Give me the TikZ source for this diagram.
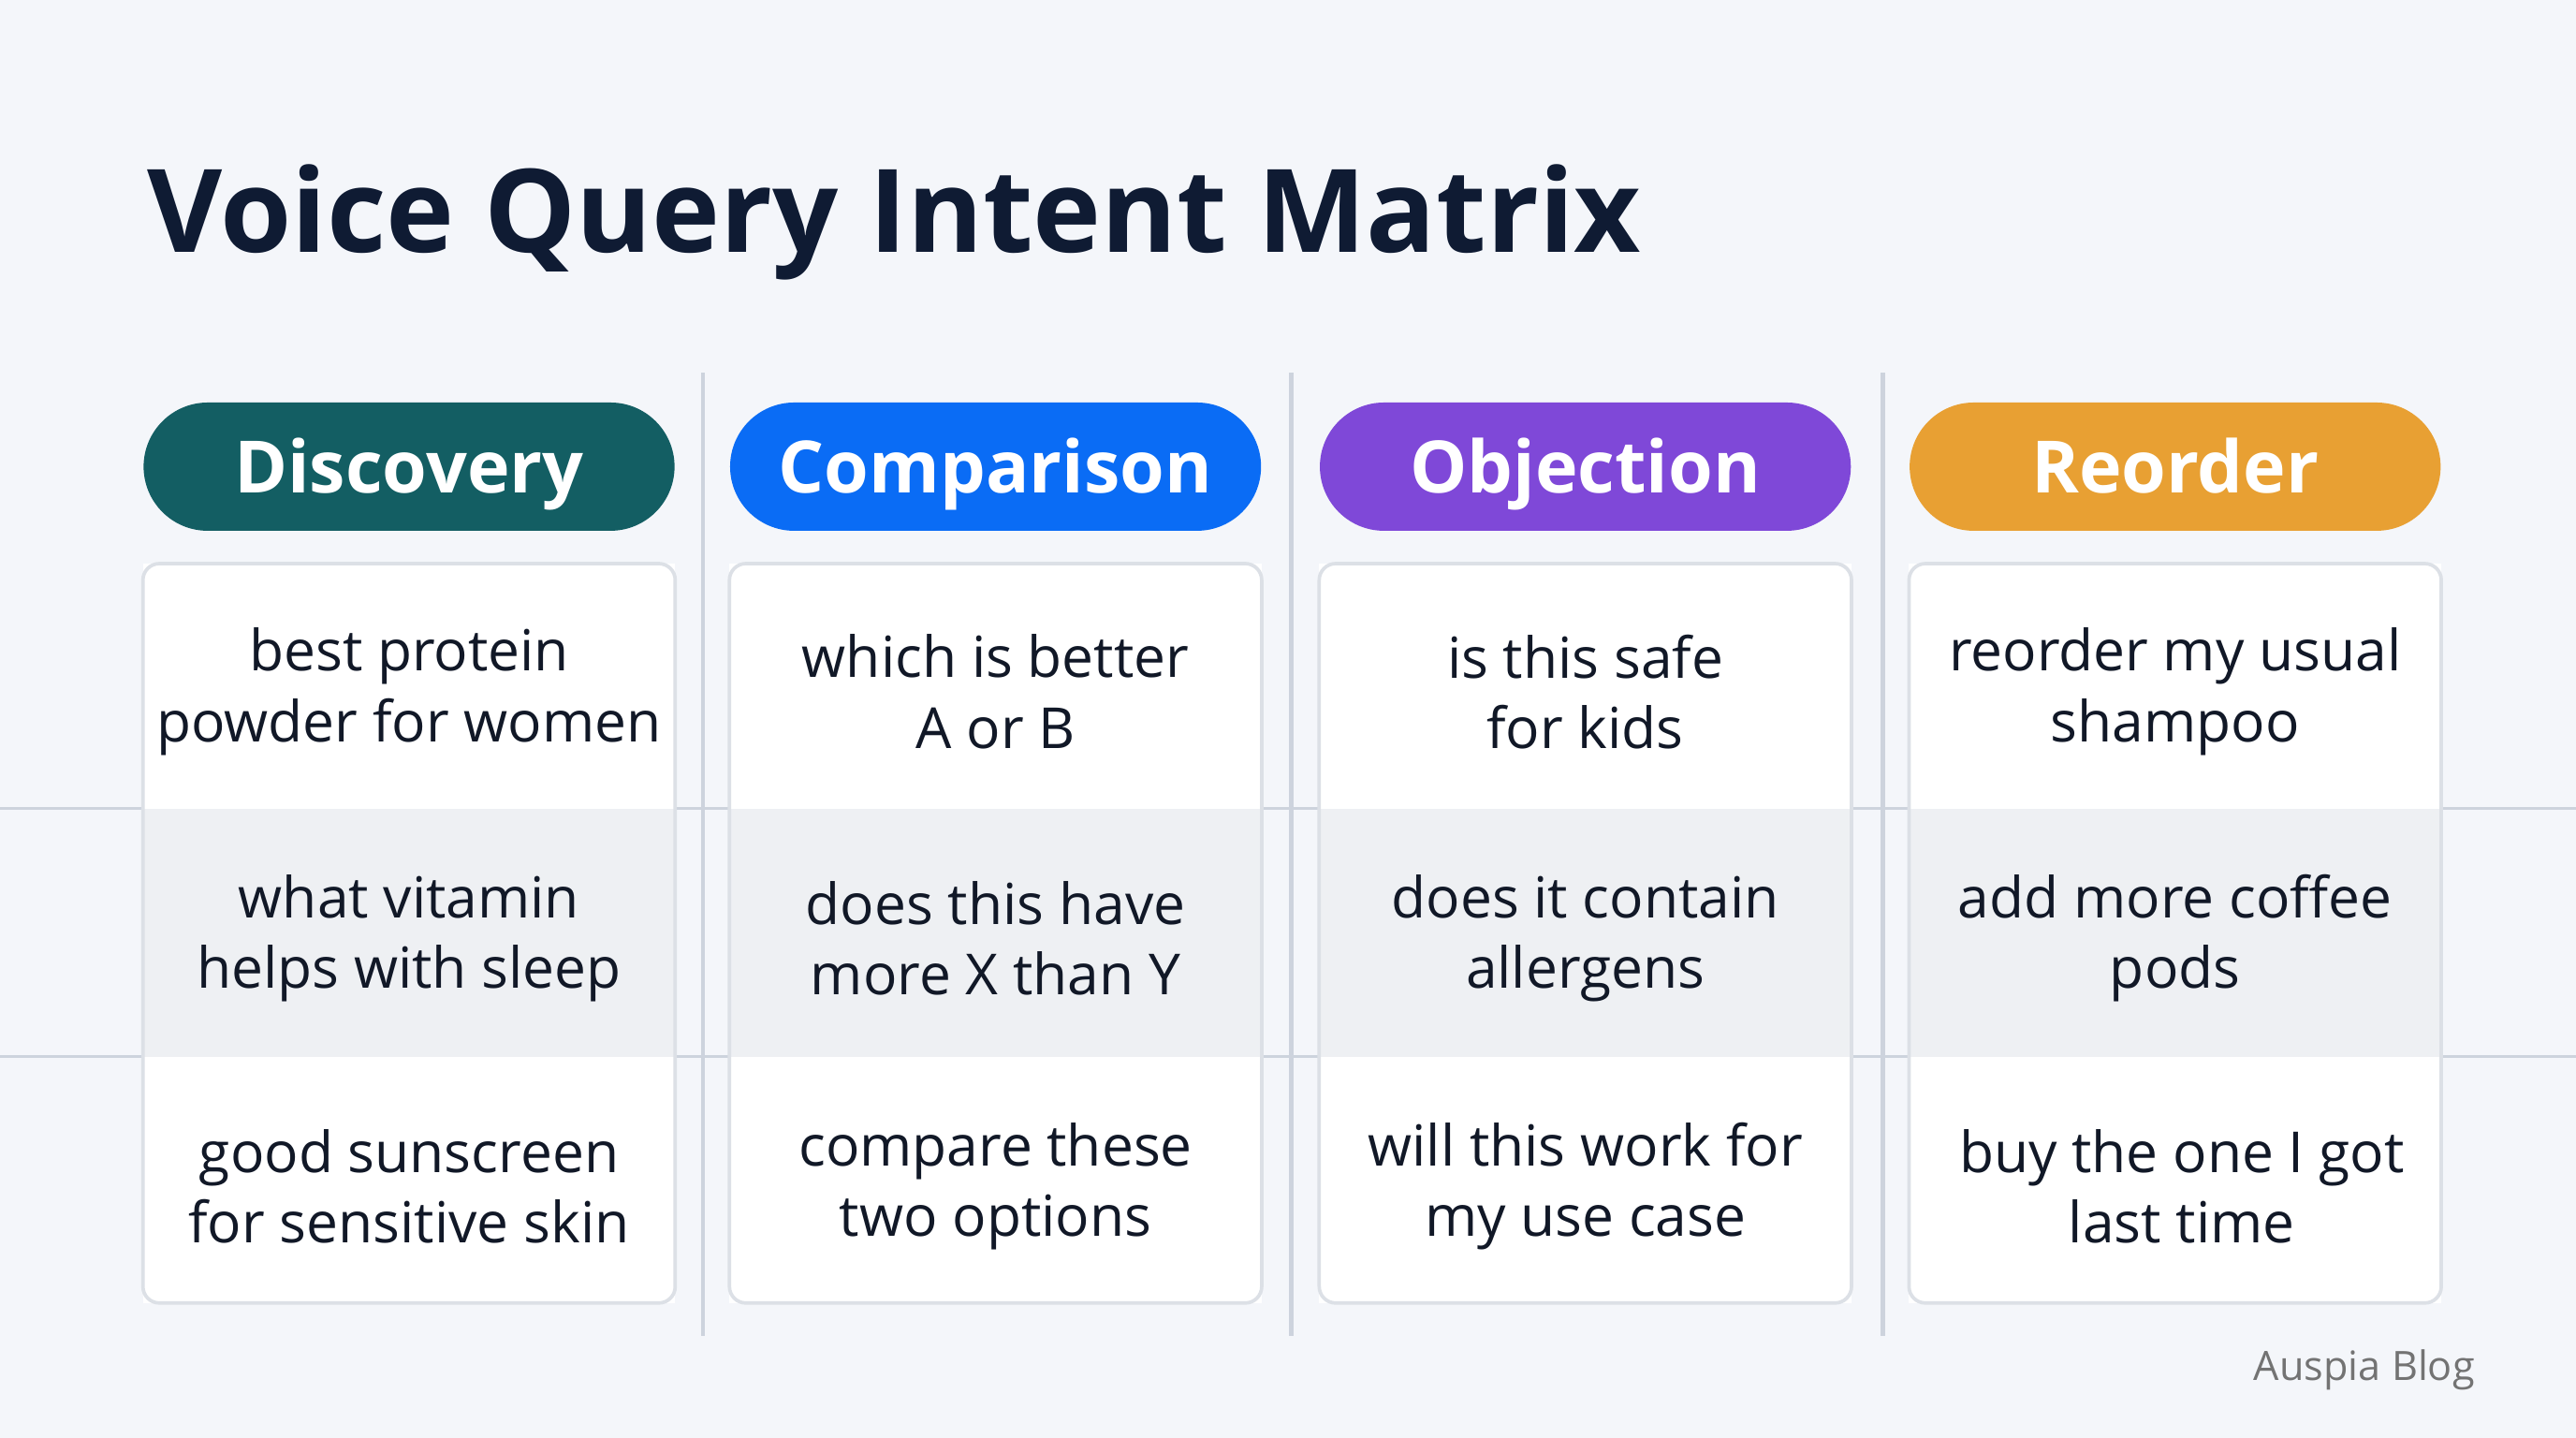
\documentclass[tikz,border=0pt]{standalone}
\usepackage{fontspec}
\setmainfont{Open Sans}
\definecolor{bg}{HTML}{F4F6FA}
\definecolor{ttl}{HTML}{0F1B33}
\definecolor{cdisc}{HTML}{135E63}
\definecolor{ccomp}{HTML}{0A6CF5}
\definecolor{cobj}{HTML}{7F48D8}
\definecolor{creo}{HTML}{E8A033}
\definecolor{gridl}{HTML}{CDD3DD}
\definecolor{cardl}{HTML}{DCE0E6}
\definecolor{midrow}{HTML}{EEF0F3}
\definecolor{txt}{HTML}{111827}
\begin{document}
\begin{tikzpicture}[x=0.01cm,y=-0.01cm,
 pill/.style={text=white, font=\fontsize{12.5}{15}\selectfont\bfseries, minimum width=3.23cm, minimum height=0.78cm, inner sep=0pt},
 pilltext/.style={text=white, font=\fontsize{12.5}{15}\selectfont\bfseries, inner sep=0pt},
 celltext/.style={text=txt, font=\fontsize{9.8}{12.2}\selectfont, align=center}]
\fill[bg] (0,0) rectangle (1568,875);
\useasboundingbox (0,0) rectangle (1568,875);
\node[anchor=west, inner sep=0pt, text=ttl, font=\fontsize{20}{24}\selectfont\bfseries] (title) at (89,135) {Voice Query Intent Matrix};
% grid lines
\foreach \y/\n in {492/ha,643/hb} \draw[gridl, line width=0.5pt] (0,\y) coordinate (\n l) -- (1568,\y) coordinate (\n r);
\foreach \x/\n in {428/va,786/vb,1146/vc} \draw[gridl, line width=0.7pt] (\x,227) coordinate (\n t) -- (\x,813) coordinate (\n b);
% columns
\foreach \x/\c/\h/\n in {87/cdisc/Discovery/d,444/ccomp/Comparison/c,803/cobj/Objection/o,1162/creo/Reorder/r}{
  \node[pill, fill=\c, rounded corners=0.39cm] (p\n) at (\x+162,284) {};
  \node[pilltext, anchor=base] (t\n) at (\x+162,300) {\h};
  \fill[white] (\x,343) rectangle (\x+324,793);
  \fill[midrow] (\x,492) rectangle (\x+324,643);
  \draw[cardl, line width=0.6pt, rounded corners=0.1cm] (\x,343) rectangle (\x+324,793);
}
\node[celltext] (d1) at (249,421) {best protein\\powder for women};
\node[celltext] (d2) at (249,571) {what vitamin\\helps with sleep};
\node[celltext] (d3) at (249,722) {good sunscreen\\for sensitive skin};
\node[celltext] (c1) at (606,421) {which is better\\A or B};
\node[celltext] (c2) at (606,571) {does this have\\more X than Y};
\node[celltext] (c3) at (606,722) {compare these\\two options};
\node[celltext] (o1) at (965,421) {is this safe\\for kids};
\node[celltext] (o2) at (965,571) {does it contain\\allergens};
\node[celltext] (o3) at (965,722) {will this work for\\my use case};
\node[celltext] (r1) at (1324,421) {reorder my usual\\shampoo};
\node[celltext] (r2) at (1324,571) {add more coffee\\pods};
\node[celltext] (r3) at (1328,722) {buy the one I got\\last time};
\node[anchor=east, inner sep=0pt, text=gray!90!black, font=\fontsize{7}{9}\selectfont] (brand) at (1507,834) {Auspia Blog};
\end{tikzpicture}
\end{document}
